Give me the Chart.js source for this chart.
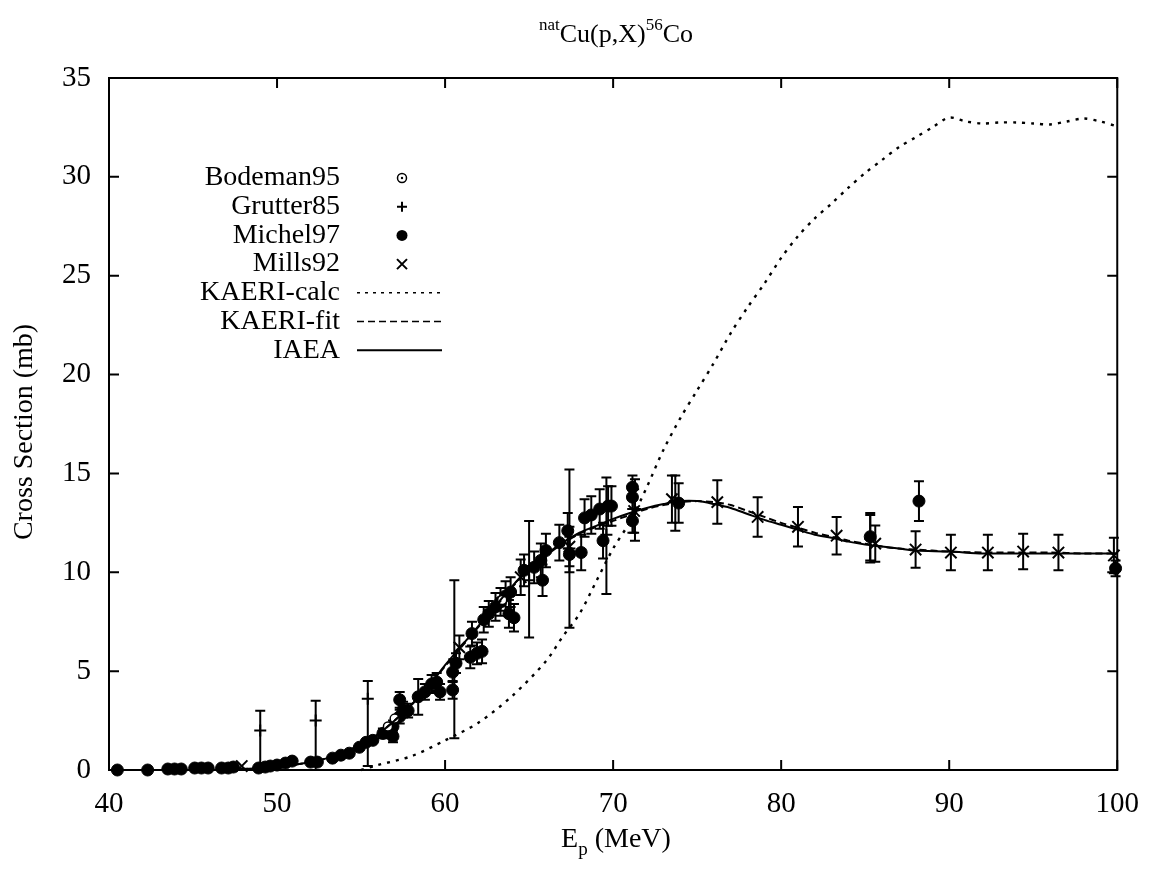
<!DOCTYPE html>
<html>
<head>
<meta charset="utf-8">
<script src="https://cdn.jsdelivr.net/npm/chart.js@4"></script>
<style>
  html, body { margin: 0; padding: 0; background: #fff; }
  #area { display: block; }
</style>
</head>
<body>
<canvas id="area" width="1156" height="869"></canvas>
<script>
// data
var bodX = [56.6, 57.0, 63.4];
var bodY = [2.2, 2.6, 8.6];

var gruX = [49.0, 52.3, 55.4, 60.55, 65.0, 67.4, 69.6, 71.3, 73.7, 85.3];
var gruY = [2.0, 2.5, 3.6, 5.6, 9.6, 11.2, 11.9, 13.2, 13.6, 11.7];
var gruLo = [0.0, 0.0, 0.2, 1.6, 6.7, 7.2, 8.9, 11.6, 12.1, 10.5];
var gruHi = [3.0, 3.5, 4.5, 9.6, 12.6, 15.2, 14.8, 14.7, 14.9, 12.9];

var micX = [40.5, 42.3, 43.5, 43.9, 44.3, 45.1, 45.5, 45.9, 46.7, 47.1, 47.4, 48.9, 49.3, 49.6, 50.0, 50.5, 50.9,
  52.0, 52.4, 53.3, 53.8, 54.3, 54.9, 55.3, 55.7, 56.3, 56.9, 56.9, 57.3, 57.5, 57.3, 57.8, 58.4, 58.8, 59.2, 59.5,
  59.7, 60.45, 60.45, 60.65, 61.5, 61.9, 62.2, 61.6, 62.3, 62.6, 63.0, 63.3, 63.6, 63.9, 64.1, 63.8, 64.7, 65.3,
  65.7, 66.0, 65.8, 66.8, 67.3, 67.4, 68.1, 68.3, 68.7, 69.2, 69.7, 69.9, 69.4, 71.15, 71.15, 71.15, 73.9, 85.3, 88.2, 99.9];
var micY = [0.0, 0.0, 0.05, 0.05, 0.05, 0.1, 0.1, 0.1, 0.1, 0.1, 0.15, 0.1, 0.15, 0.2, 0.25, 0.35, 0.45,
  0.4, 0.4, 0.6, 0.75, 0.85, 1.15, 1.4, 1.5, 1.85, 2.2, 1.7, 2.7, 3.05, 3.55, 3.0, 3.7, 3.95, 4.35, 4.45,
  3.95, 4.05, 4.95, 5.4, 5.7, 5.9, 6.0, 6.9, 7.6, 7.9, 8.25, 8.5, 8.8, 9.0, 7.7, 7.9, 10.1, 10.25,
  10.6, 11.1, 9.6, 11.5, 12.1, 10.9, 11.0, 12.75, 12.9, 13.2, 13.35, 13.35, 11.6, 14.3, 13.8, 12.6, 13.5, 11.8, 13.6, 10.2];
var micErr = [0, 0, 0, 0, 0, 0, 0, 0, 0, 0, 0, 0, 0, 0, 0, 0.1, 0.1,
  0.1, 0.1, 0.1, 0.15, 0.15, 0.2, 0.2, 0.2, 0.25, 0.3, 0.3, 0.35, 0.4, 0.4, 0.35, 0.9, 0.4, 0.45, 0.45,
  0.4, 0.45, 0.5, 0.5, 0.55, 0.55, 0.6, 0.6, 0.65, 0.65, 0.7, 0.7, 0.75, 0.75, 0.7, 0.7, 0.8, 0.8,
  0.85, 0.85, 0.8, 0.9, 0.9, 0.9, 0.9, 0.95, 0.95, 1.0, 1.0, 1.0, 0.9, 0.6, 0.6, 0.6, 1.0, 1.2, 1.0, 0.4];

var milX = [47.9, 60.85, 64.5, 67.4, 71.25, 73.5, 76.2, 78.6, 81.0, 83.3, 85.6, 88.0, 90.1, 92.3, 94.4, 96.5, 99.8];
var milY = [0.2, 6.2, 9.75, 11.3, 13.1, 13.7, 13.55, 12.8, 12.3, 11.85, 11.45, 11.15, 11.0, 11.0, 11.05, 11.0, 10.85];
var milErr = [0.1, 0.6, 0.9, 1.0, 1.1, 1.2, 1.1, 1.0, 1.0, 0.95, 0.92, 0.92, 0.9, 0.9, 0.9, 0.9, 0.9];

var calcX = [55, 56, 58, 60, 62, 64, 66, 67, 68, 69, 70, 71, 72, 73, 74, 75, 76, 77, 78, 79, 80, 81, 82, 83, 84,
  85, 86, 87, 88, 89, 90, 91, 92, 93, 94, 95, 96, 97, 98, 99, 100];
var calcY = [0, 0.25, 0.7, 1.5, 2.4, 3.75, 5.5, 6.75, 7.9, 9.55, 11.2, 12.55, 14.3, 16.2, 17.8, 19.2, 20.6, 22.1, 23.4,
  24.6, 25.9, 27.0, 27.9, 28.65, 29.45, 30.2, 30.85, 31.5, 32.0, 32.5, 33.0, 32.8, 32.7, 32.75, 32.75, 32.7, 32.65,
  32.8, 32.95, 32.8, 32.55];

var fitX = [40, 45, 48, 50, 52, 53, 54, 55, 56, 57, 58, 59, 60, 61, 62, 63, 64, 65, 66, 67, 68, 69, 70, 71, 72, 73,
  74, 75, 76, 77, 78, 79, 80, 81, 82, 83, 84, 85, 86, 87, 88, 90, 92, 94, 96, 98, 100];
var fitY = [0, 0, 0.05, 0.15, 0.4, 0.6, 0.9, 1.3, 1.8, 2.5, 3.3, 4.2, 5.25, 6.25, 7.25, 8.25, 9.25, 10.15, 10.85, 11.45,
  11.95, 12.3, 12.6, 12.9, 13.2, 13.4, 13.55, 13.6, 13.55, 13.4, 13.1, 12.8, 12.5, 12.25, 12.0, 11.8, 11.6, 11.45,
  11.3, 11.2, 11.15, 11.05, 11.0, 11.0, 11.0, 10.95, 10.95];

var iaeaX = [40, 45, 48, 50, 52, 53, 54, 55, 56, 57, 58, 59, 60, 61, 62, 63, 64, 65, 66, 67, 68, 69, 70, 71, 72, 73,
  74, 75, 76, 77, 78, 79, 80, 81, 82, 83, 84, 85, 86, 87, 88, 90, 92, 94, 96, 98, 100];
var iaeaY = [0, 0, 0.05, 0.15, 0.4, 0.6, 0.9, 1.3, 1.8, 2.5, 3.3, 4.2, 5.3, 6.3, 7.3, 8.3, 9.3, 10.2, 10.9, 11.5,
  12.0, 12.35, 12.7, 13.0, 13.25, 13.45, 13.6, 13.6, 13.45, 13.25, 12.95, 12.65, 12.4, 12.15, 11.9, 11.75, 11.55,
  11.4, 11.3, 11.2, 11.1, 11.05, 10.95, 10.95, 10.95, 10.95, 10.95];

var xTicks = [40, 50, 60, 70, 80, 90, 100];
var yTicks = [0, 5, 10, 15, 20, 25, 30, 35];

function pts(xs, ys) {
  return xs.map(function (x, i) { return { x: x, y: ys[i] }; });
}

var serif = "'Liberation Serif', 'Times New Roman', serif";

var errorSets = [
  { xs: gruX, lo: gruLo, hi: gruHi },
  { xs: micX, lo: micY.map(function (v, i) { return v - micErr[i]; }), hi: micY.map(function (v, i) { return v + micErr[i]; }) },
  { xs: milX, lo: milY.map(function (v, i) { return v - milErr[i]; }), hi: milY.map(function (v, i) { return v + milErr[i]; }) }
];

var legendRows = [
  { label: 'Bodeman95', kind: 'bod' },
  { label: 'Grutter85', kind: 'plus' },
  { label: 'Michel97', kind: 'dot' },
  { label: 'Mills92', kind: 'x' },
  { label: 'KAERI-calc', kind: 'line', dash: [3, 5] },
  { label: 'KAERI-fit', kind: 'line', dash: [7, 4] },
  { label: 'IAEA', kind: 'line', dash: [] }
];

var decor = {
  id: 'decor',
  beforeDatasetsDraw: function (chart) {
    var c = chart.ctx, sx = chart.scales.x, sy = chart.scales.y;
    c.save();
    c.strokeStyle = '#000';
    c.lineWidth = 2;
    errorSets.forEach(function (s) {
      s.xs.forEach(function (x, i) {
        if (s.hi[i] - s.lo[i] < 0.5) return;
        var px = sx.getPixelForValue(x);
        var top = sy.getPixelForValue(s.hi[i]);
        var bot = sy.getPixelForValue(Math.max(0, s.lo[i]));
        c.beginPath();
        c.moveTo(px, top); c.lineTo(px, bot);
        c.moveTo(px - 5, top); c.lineTo(px + 5, top);
        c.moveTo(px - 5, bot); c.lineTo(px + 5, bot);
        c.stroke();
      });
    });
    c.restore();
  },
  afterDraw: function (chart) {
    var c = chart.ctx, a = chart.chartArea, sx = chart.scales.x, sy = chart.scales.y;
    c.save();
    c.strokeStyle = '#000';
    c.lineWidth = 2;
    c.strokeRect(a.left, a.top, a.right - a.left, a.bottom - a.top);
    c.beginPath();
    xTicks.forEach(function (t) {
      var p = sx.getPixelForValue(t);
      c.moveTo(p, a.bottom); c.lineTo(p, a.bottom - 10);
      c.moveTo(p, a.top); c.lineTo(p, a.top + 10);
    });
    yTicks.forEach(function (t) {
      var p = sy.getPixelForValue(t);
      c.moveTo(a.left, p); c.lineTo(a.left + 10, p);
      c.moveTo(a.right, p); c.lineTo(a.right - 10, p);
    });
    c.stroke();

    c.fillStyle = '#000';
    // title with superscripts
    var big = '26px ' + serif, small = '17px ' + serif;
    var parts = [['nat', small, -12], ['Cu(p,X)', big, 0], ['56', small, -12], ['Co', big, 0]];
    var w = 0;
    parts.forEach(function (p) { c.font = p[1]; w += c.measureText(p[0]).width; });
    var x = 616 - w / 2;
    c.textBaseline = 'alphabetic';
    c.textAlign = 'left';
    parts.forEach(function (p) { c.font = p[1]; c.fillText(p[0], x, 42 + p[2]); x += c.measureText(p[0]).width; });

    // x title with subscript
    var xparts = [['E', '28px ' + serif, 0], ['p', '19px ' + serif, 8], [' (MeV)', '28px ' + serif, 0]];
    w = 0;
    xparts.forEach(function (p) { c.font = p[1]; w += c.measureText(p[0]).width; });
    x = 616 - w / 2;
    xparts.forEach(function (p) { c.font = p[1]; c.fillText(p[0], x, 847 + p[2]); x += c.measureText(p[0]).width; });

    // y title
    c.save();
    c.translate(32, 432);
    c.rotate(-Math.PI / 2);
    c.font = '28px ' + serif;
    c.textAlign = 'center';
    c.fillText('Cross Section (mb)', 0, 0);
    c.restore();

    // legend
    c.font = '28px ' + serif;
    c.textAlign = 'right';
    c.textBaseline = 'middle';
    legendRows.forEach(function (r, i) {
      var y = 178 + i * 28.7;
      c.fillText(r.label, 340, y);
      c.beginPath();
      c.setLineDash([]);
      c.lineWidth = 2;
      if (r.kind === 'bod') {
        c.lineWidth = 1.5;
        c.arc(402, y, 4.5, 0, Math.PI * 2);
        c.stroke();
        c.beginPath();
        c.arc(402, y, 1.2, 0, Math.PI * 2);
        c.fill();
      } else if (r.kind === 'plus') {
        c.moveTo(397, y); c.lineTo(407, y);
        c.moveTo(402, y - 5); c.lineTo(402, y + 5);
        c.stroke();
      } else if (r.kind === 'dot') {
        c.arc(402, y, 5.5, 0, Math.PI * 2);
        c.fill();
      } else if (r.kind === 'x') {
        c.moveTo(397, y - 5); c.lineTo(407, y + 5);
        c.moveTo(397, y + 5); c.lineTo(407, y - 5);
        c.stroke();
      } else {
        c.lineWidth = r.dash.length ? 1.5 : 2;
        c.setLineDash(r.dash);
        c.moveTo(357, y); c.lineTo(442, y);
        c.stroke();
      }
    });
    c.restore();
  }
};

var ctx = document.getElementById('area').getContext('2d');
var myChart = new Chart(ctx, {
  type: 'scatter',
  data: {
    datasets: [
      { label: 'KAERI-calc', data: pts(calcX, calcY), showLine: true, pointRadius: 0, borderColor: '#000',
        borderWidth: 2.4, borderDash: [3, 6], tension: 0.3, fill: false },
      { label: 'KAERI-fit', data: pts(fitX, fitY), showLine: true, pointRadius: 0, borderColor: '#000',
        borderWidth: 2, borderDash: [7, 4], tension: 0.3, fill: false },
      { label: 'IAEA', data: pts(iaeaX, iaeaY), showLine: true, pointRadius: 0, borderColor: '#000',
        borderWidth: 2, tension: 0.3, fill: false },
      { label: 'Bodeman95', data: pts(bodX, bodY), pointStyle: 'circle', pointRadius: 4.5,
        backgroundColor: '#fff', borderColor: '#000', borderWidth: 1.5 },
      { label: 'Grutter85', data: pts(gruX, gruY), pointStyle: 'cross', pointRadius: 6,
        borderColor: '#000', borderWidth: 2 },
      { label: 'Michel97', data: pts(micX, micY), pointStyle: 'circle', pointRadius: 6,
        backgroundColor: '#000', borderColor: '#000', borderWidth: 1 },
      { label: 'Mills92', data: pts(milX, milY), pointStyle: 'crossRot', pointRadius: 8,
        borderColor: '#000', borderWidth: 2 }
    ]
  },
  options: {
    responsive: false,
    animation: false,
    clip: false,
    layout: { padding: { top: 78, right: 33, left: 0, bottom: 0 } },
    plugins: { legend: { display: false }, tooltip: { enabled: false } },
    scales: {
      x: {
        type: 'linear', min: 40, max: 100,
        afterBuildTicks: function (s) { s.ticks = xTicks.map(function (v) { return { value: v }; }); },
        afterFit: function (s) { s.height = 99; },
        grid: { display: false, drawTicks: false },
        border: { display: false },
        ticks: { color: '#000', padding: 17, font: { family: serif, size: 29 } }
      },
      y: {
        type: 'linear', min: 0, max: 35,
        afterBuildTicks: function (s) { s.ticks = yTicks.map(function (v) { return { value: v }; }); },
        afterFit: function (s) { s.width = 109; },
        grid: { display: false, drawTicks: false },
        border: { display: false },
        ticks: { color: '#000', padding: 18, font: { family: serif, size: 29 } }
      }
    }
  },
  plugins: [decor]
});
</script>
</body>
</html>
